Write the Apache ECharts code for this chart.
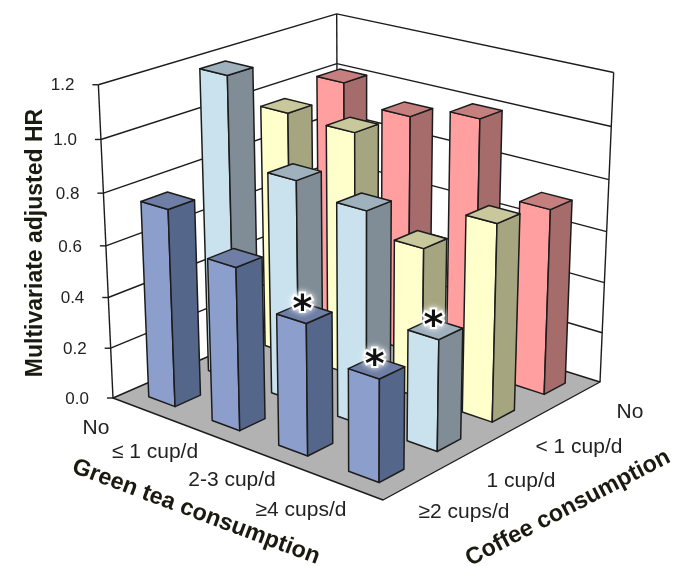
<!DOCTYPE html>
<html><head><meta charset="utf-8">
<style>html,body{margin:0;padding:0;background:#fff}#c{width:675px;height:566px}</style>
<script src="https://cdn.jsdelivr.net/npm/echarts@6/dist/echarts.min.js"></script>
</head><body><div id="c"></div>
<script>
const greenLabels = ['No', '≤ 1 cup/d', '2-3 cup/d', '≥4 cups/d'];
const coffeeLabels = ['No', '< 1 cup/d', '1 cup/d', '≥2 cups/d'];
const hrTicks = [0, 0.2, 0.4, 0.6, 0.8, 1.0, 1.2];
const hrCoffeeNo = [1.015, 0.945, 1.0, 0.725];
const hrCoffeeLess1 = [0.97, 0.96, 0.59, 0.76];
const hrCoffee1 = [1.185, 0.86, 0.82, 0.425];
const hrCoffee2 = [0.765, 0.625, 0.5, 0.385];
const sigCoffee1 = [0, 0, 0, 1];
const sigCoffee2 = [0, 0, 1, 1];
const sigNone = [0, 0, 0, 0];

const rows = [
  {name: 'No', c: 0, v: hrCoffeeNo, s: sigNone, col: ['#FF9F9F', '#A66B6B', '#C67F7F']},
  {name: '< 1 cup/d', c: 1, v: hrCoffeeLess1, s: sigNone, col: ['#FFFFCC', '#A5A580', '#C8C89C']},
  {name: '1 cup/d', c: 2, v: hrCoffee1, s: sigCoffee1, col: ['#C9E2EE', '#808D96', '#9FB1BD']},
  {name: '≥2 cups/d', c: 3, v: hrCoffee2, s: sigCoffee2, col: ['#8C9ECB', '#55668B', '#6E7EA4']}
];

// projective camera: floor quad + vertical vanishing point
const B = [338, 300], R = [600, 382], F = [383, 500], L = [113, 398];
const V = [363, 5748], K = -0.0499, ZMAX = 1.2;
const dx1 = R[0] - F[0], dx2 = L[0] - F[0], sx = B[0] - R[0] + F[0] - L[0];
const dy1 = R[1] - F[1], dy2 = L[1] - F[1], sy = B[1] - R[1] + F[1] - L[1];
const den = dx1 * dy2 - dx2 * dy1;
const g = (sx * dy2 - dx2 * sy) / den, h = (dx1 * sy - sx * dy1) / den;
const a = R[0] - B[0] + g * R[0], b = L[0] - B[0] + h * L[0];
const d = R[1] - B[1] + g * R[1], e = L[1] - B[1] + h * L[1];
function proj(u, v, val) {
  const z = K * val / ZMAX;
  const W = g * u + h * v + 1 + z;
  return [(a * u + b * v + B[0] + z * V[0]) / W, (d * u + e * v + B[1] + z * V[1]) / W];
}
const LINE = '#1c1c1c';
const HALF = 0.21;
function poly(points, fill, lw) {
  return {type: 'polygon', shape: {points}, style: {fill: fill, stroke: LINE, lineWidth: lw == null ? 1.5 : lw, lineJoin: 'round'}};
}
function seg(p, q, lw) {
  return {type: 'line', shape: {x1: p[0], y1: p[1], x2: q[0], y2: q[1]}, style: {stroke: LINE, lineWidth: lw || 1.4}};
}
const barSeries = rows.map(r => ({
  type: 'custom', name: r.name, coordinateSystem: 'none', silent: true, animation: false,
  data: r.v.map((val, i) => [i, r.c, val, r.s[i]]),
  renderItem(params, api) {
    const gi = api.value(0), ci = api.value(1), val = api.value(2), sig = api.value(3);
    const u0 = (gi + 0.5 - HALF) / 4, u1 = (gi + 0.5 + HALF) / 4;
    const v0 = (ci + 0.5 - HALF) / 4, v1 = (ci + 0.5 + HALF) / 4;
    const fb = proj(u1, v1, 0), ft = proj(u1, v1, val);
    const lb = proj(u0, v1, 0), lt = proj(u0, v1, val);
    const rb = proj(u1, v0, 0), rt = proj(u1, v0, val);
    const bt = proj(u0, v0, val);
    const children = [
      poly([lb, fb, ft, lt], r.col[0]),
      poly([fb, rb, rt, ft], r.col[1]),
      poly([lt, ft, rt, bt], r.col[2])
    ];
    if (sig) {
      const c = proj((gi + 0.5) / 4, (ci + 0.5) / 4, val);
      children.push({type: 'text', style: {x: c[0] - 2, y: c[1] - 2, text: '*', align: 'center', verticalAlign: 'middle',
        font: 'bold 38px "DejaVu Sans"', fill: '#111', stroke: '#fff', lineWidth: 4, textShadowColor: '#fff', textShadowBlur: 6}});
    }
    return {type: 'group', children};
  }
}));
const wallSeries = {
  type: 'custom', name: 'walls', coordinateSystem: 'none', silent: true, animation: false, z: 1,
  data: hrTicks.map(t => [t]),
  renderItem(params, api) {
    const t = api.value(0);
    const l = proj(0, 1, t), b0 = proj(0, 0, t), r0 = proj(1, 0, t);
    const kids = [];
    if (t === 0) {
      kids.push(poly([proj(0, 0, 0), proj(1, 0, 0), proj(1, 1, 0), proj(0, 1, 0)], '#B2B2B2', 1.4));
      kids.push(seg(proj(0, 1, 0), proj(0, 1, ZMAX)), seg(proj(0, 0, 0), proj(0, 0, ZMAX)), seg(proj(1, 0, 0), proj(1, 0, ZMAX)));
    } else {
      kids.push(seg(l, b0), seg(b0, r0));
    }
    kids.push(seg([l[0] - 6, l[1]], l));
    return {type: 'group', children: kids};
  }
};
const tickText = hrTicks.map(t => {
  const p = proj(0, 1, t);
  return {type: 'text', style: {x: p[0] - 24, y: p[1] + 1, text: t.toFixed(1), align: 'right', verticalAlign: 'middle', font: '17px "Liberation Sans"', fill: '#222'}};
});
const catFont = '21px "Liberation Sans"';
const greenPos = [[96, 428], [155, 452], [232, 480], [301, 510]];
const coffeePos = [[630, 412], [579, 447], [521, 481], [464, 512]];
const catText = greenLabels.map((s, i) => ({type: 'text', style: {x: greenPos[i][0], y: greenPos[i][1], text: s, align: 'center', verticalAlign: 'middle', font: catFont, fill: '#222'}}))
  .concat(coffeeLabels.map((s, i) => ({type: 'text', style: {x: coffeePos[i][0], y: coffeePos[i][1], text: s, align: 'center', verticalAlign: 'middle', font: catFont, fill: '#222'}})));
function title(text, x, y, deg, font) {
  return {type: 'text', x, y, rotation: deg * Math.PI / 180, originX: 0, originY: 0,
    style: {x: 0, y: 0, text, align: 'center', verticalAlign: 'middle', font, fill: '#1a1a10'}};
}
const titles = [
  title('Multivariate adjusted HR', 36, 243, 90, 'bold 23px "Liberation Sans"'),
  title('Green tea consumption', 196, 512, -20.5, 'bold 23.5px "Liberation Sans"'),
  title('Coffee consumption', 568, 508, 27.5, 'bold 23.5px "Liberation Sans"')
];
const chart = echarts.init(document.getElementById('c'), null, {renderer: 'canvas'});
chart.setOption({
  backgroundColor: '#fff', animation: false,
  series: [wallSeries].concat(barSeries),
  graphic: {elements: tickText.concat(catText, titles)}
});
</script></body></html>
